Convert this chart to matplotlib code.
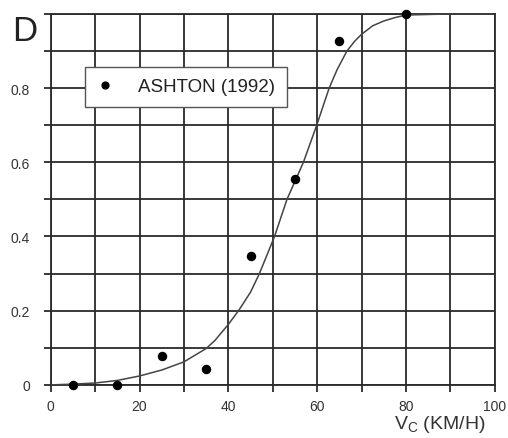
import matplotlib
matplotlib.use("Agg")
import matplotlib.pyplot as plt
from matplotlib.ticker import MultipleLocator

plt.rcParams['font.family'] = ['Liberation Sans', 'DejaVu Sans']
plt.rcParams['mathtext.default'] = 'regular'

# Data points (Ashton)
vc_points = [5, 15, 25, 35, 45, 55, 65, 80]
d_points = [0.0, 0.0, 0.078, 0.043, 0.348, 0.555, 0.927, 1.0]

# Fitted curve
vc_curve = [0, 5, 10, 15, 20, 25, 30, 35, 37, 40, 42.3, 45, 47, 50.4, 53.2, 56.9,
            59.9, 62.7, 64.5, 66.7, 68.5, 70, 72.5, 75, 77.5, 80, 90, 100]
d_curve = [0.0, 0.002, 0.005, 0.012, 0.024, 0.04, 0.062, 0.098, 0.12, 0.163, 0.2,
           0.25, 0.3, 0.4, 0.5, 0.6, 0.7, 0.8, 0.85, 0.9, 0.927, 0.945, 0.968, 0.981,
           0.99, 0.997, 1.0, 1.0]

x_ticks = [0, 20, 40, 60, 80, 100]
x_ticklabels = ['0', '20', '40', '60', '80', '100']
y_ticks = [0, 0.2, 0.4, 0.6, 0.8]
y_ticklabels = ['0', '0.2', '0.4', '0.6', '0.8']

fig = plt.figure(figsize=(5.08, 4.39), dpi=100)
ax = fig.add_axes([0.0998, 0.121, 0.974 - 0.0998, 0.966 - 0.121])

grid_color = '#2a2a2a'
ax.set_xlim(0, 100)
ax.set_ylim(0, 1)
ax.xaxis.set_minor_locator(MultipleLocator(10))
ax.yaxis.set_minor_locator(MultipleLocator(0.1))
ax.set_xticks(x_ticks)
ax.set_xticklabels(x_ticklabels)
ax.set_yticks(y_ticks)
ax.set_yticklabels(y_ticklabels)
ax.grid(True, which='both', color=grid_color, linewidth=1.3)
ax.set_axisbelow(True)
for s in ax.spines.values():
    s.set_color(grid_color)
    s.set_linewidth(1.3)
ax.tick_params(which='both', direction='out', length=5, width=1.3, color=grid_color,
               labelsize=10, labelcolor='#333333')
ax.tick_params(axis='x', pad=5)
ax.tick_params(axis='y', pad=10)

ax.plot(vc_curve, d_curve, color='#444444', linewidth=1.1, zorder=3)
ax.plot(vc_points, d_points, 'o', color='black', markersize=5.8, linestyle='none',
        label='ASHTON (1992)', zorder=4, clip_on=False)

leg = ax.legend(loc='upper left', bbox_to_anchor=(0.077, 0.857), borderaxespad=0,
                frameon=True, fancybox=False, fontsize=13.5, handlelength=0.95,
                handletextpad=1.3, borderpad=0.6, numpoints=1, markerscale=0.85)
leg.get_frame().set_edgecolor('#555555')
leg.get_frame().set_linewidth(1.0)
leg.get_frame().set_facecolor('white')
leg.get_frame().set_alpha(1)
leg.set_zorder(5)
for t in leg.get_texts():
    t.set_color('#222222')

fig.text(0.023, 0.965, 'D', fontsize=25, color='#222222', ha='left', va='top')
fig.text(0.955, 0.008, 'V$_C$ (KM/H)', fontsize=14, color='#333333', ha='right', va='bottom')

fig.savefig('out.png', dpi=100)
